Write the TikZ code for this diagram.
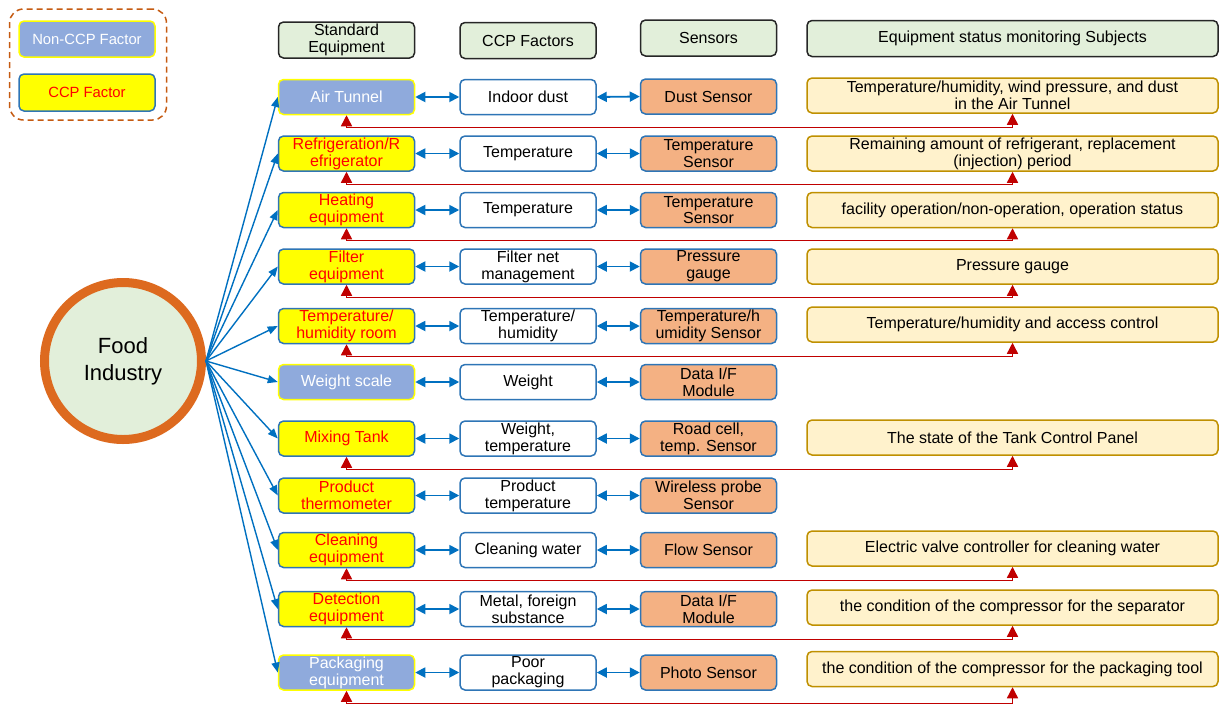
\documentclass[tikz,border=0pt]{standalone}
\usepackage{fontspec}
\setmainfont{Liberation Sans}
\usetikzlibrary{arrows.meta}
\definecolor{ncfill}{HTML}{8FAADC}
\definecolor{ccpyel}{HTML}{FFFF00}
\definecolor{bblue}{HTML}{2E75B6}
\definecolor{arrblue}{HTML}{0070C0}
\definecolor{hdrfill}{HTML}{E2EFDA}
\definecolor{sensfill}{HTML}{F4B183}
\definecolor{subfill}{HTML}{FFF2CC}
\definecolor{subdraw}{HTML}{BF9000}
\definecolor{circdraw}{HTML}{DD6A1F}
\definecolor{legdraw}{HTML}{C55A11}
\definecolor{redarr}{HTML}{C00000}
\newcommand\boxfont{\fontsize{16}{16.8}\selectfont}
\newcommand\legfont{\fontsize{14.8}{16}\selectfont}
\tikzset{
  box/.style={rectangle, rounded corners=5pt, line width=1.5pt, minimum width=136pt, minimum height=35pt, inner sep=0pt, align=center, font=\boxfont},
  noncp/.style={box, fill=ncfill, draw=ccpyel, text=white},
  ccp/.style={box, fill=ccpyel, draw=bblue, text=red},
  fac/.style={box, fill=white, draw=bblue},
  sens/.style={box, fill=sensfill, draw=bblue},
  subj/.style={box, fill=subfill, draw=subdraw, minimum width=411pt},
  hdr/.style={box, fill=hdrfill, draw=black!85, minimum height=36pt},
  blu/.style={arrblue, line width=1.8pt, {Triangle[length=10pt,width=10pt]}-{Triangle[length=10pt,width=10pt]}},
  fan/.style={arrblue, line width=1.4pt, -{Triangle[length=10pt,width=8pt]}},
  redc/.style={redarr, line width=1.4pt, {Triangle[length=11pt,width=11pt]}-{Triangle[length=11pt,width=11pt]}}
}
\begin{document}
\begin{tikzpicture}[x=1pt,y=-1pt]
\useasboundingbox (0,0) rectangle (1221,705);

% legend
\node[draw=legdraw, dashed, dash pattern=on 6pt off 4pt, line width=1.5pt, rounded corners=14pt, minimum width=157pt, minimum height=111pt, inner sep=0pt] (leg) at (88,64.5) {};
\node[noncp, font=\legfont, minimum height=36pt] (legnc) at (87,39) {Non-CCP Factor};
\node[ccp, font=\legfont, minimum height=37pt] (legcc) at (87,92.5) {CCP Factor};

% headers
\node[hdr] (h1) at (346.5,40) {Standard\\Equipment};
\node[hdr] (h2) at (528,40.5) {CCP Factors};
\node[hdr] (h3) at (708.5,38) {Sensors};
\node[hdr, minimum width=411pt] (h4) at (1012.5,38.5) {Equipment status monitoring Subjects};

% central circle
\node[circle, draw=circdraw, line width=9pt, fill=hdrfill, minimum size=157pt, inner sep=0pt, align=center, font=\fontsize{22}{27}\selectfont] (fi) at (123,361) {Food\\Industry};

% equipment
\node[noncp] (e1) at (346.5,97) {Air Tunnel};
\node[ccp] (e2) at (346.5,153.5) {Refrigeration/R\\efrigerator};
\node[ccp] (e3) at (346.5,210) {Heating\\equipment};
\node[ccp] (e4) at (346.5,266.5) {Filter\\equipment};
\node[ccp] (e5) at (346.5,326) {Temperature/\\humidity room};
\node[noncp] (e6) at (346.5,382) {Weight scale};
\node[ccp] (e7) at (346.5,438.5) {Mixing Tank};
\node[ccp] (e8) at (346.5,495.5) {Product\\thermometer};
\node[ccp] (e9) at (346.5,550) {Cleaning\\equipment};
\node[ccp] (e10) at (346.5,609) {Detection\\equipment};
\node[noncp] (e11) at (346.5,672.5) {Packaging\\equipment};

% CCP factors
\node[fac] (f1) at (528,97) {Indoor dust};
\node[fac] (f2) at (528,153.5) {Temperature};
\node[fac] (f3) at (528,210) {Temperature};
\node[fac] (f4) at (528,266.5) {Filter net\\management};
\node[fac] (f5) at (528,326) {Temperature/\\humidity};
\node[fac] (f6) at (528,382) {Weight};
\node[fac] (f7) at (528,438.5) {Weight,\\temperature};
\node[fac] (f8) at (528,495.5) {Product\\temperature};
\node[fac] (f9) at (528,550) {Cleaning water};
\node[fac] (f10) at (528,609) {Metal, foreign\\substance};
\node[fac] (f11) at (528,672.5) {Poor\\packaging};

% sensors
\node[sens] (s1) at (708.5,96.5) {Dust Sensor};
\node[sens] (s2) at (708.5,153.5) {Temperature\\Sensor};
\node[sens] (s3) at (708.5,210) {Temperature\\Sensor};
\node[sens] (s4) at (708.5,266.5) {Pressure\\gauge};
\node[sens] (s5) at (708.5,326) {Temperature/h\\umidity Sensor};
\node[sens] (s6) at (708.5,382) {Data I/F\\Module};
\node[sens] (s7) at (708.5,438.5) {Road cell,\\temp. Sensor};
\node[sens] (s8) at (708.5,495.5) {Wireless probe\\Sensor};
\node[sens] (s9) at (708.5,550) {Flow Sensor};
\node[sens] (s10) at (708.5,609) {Data I/F\\Module};
\node[sens] (s11) at (708.5,672.5) {Photo Sensor};

% subjects
\node[subj] (m1) at (1012.5,95.5) {Temperature/humidity, wind pressure, and dust\\in the Air Tunnel};
\node[subj] (m2) at (1012.5,153.5) {Remaining amount of refrigerant, replacement\\(injection) period};
\node[subj] (m3) at (1012.5,210) {facility operation/non-operation, operation status};
\node[subj] (m4) at (1012.5,266.5) {Pressure gauge};
\node[subj] (m5) at (1012.5,324.5) {Temperature/humidity and access control};
\node[subj] (m7) at (1012.5,437.5) {The state of the Tank Control Panel};
\node[subj] (m9) at (1012.5,548.5) {Electric valve controller for cleaning water};
\node[subj] (m10) at (1012.5,607.5) {the condition of the compressor for the separator};
\node[subj] (m11) at (1012.5,669) {the condition of the compressor for the packaging tool};

% fan arrows and blue double arrows
\foreach \i in {1,...,11} {
  \draw[fan] (fi.east) -- (e\i.west);
  \draw[blu] (e\i.east) -- (f\i.west);
  \draw[blu] (f\i.east) -- (s\i.west);
}

% red feedback connectors
\foreach \i in {1,2,3,4,5,7,9,10,11} {
  \draw[redc] (e\i.south) -- ++(0,12.5) -| (m\i.south);
}
\end{tikzpicture}
\end{document}
